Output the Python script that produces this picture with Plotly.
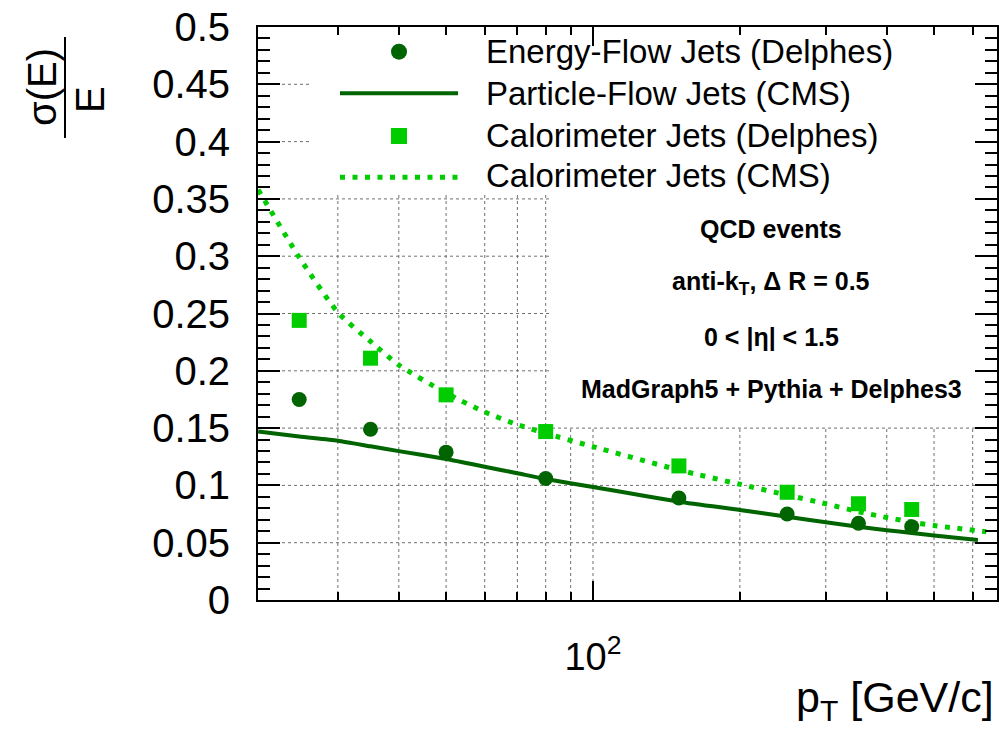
import math
import plotly.graph_objects as go

# ---------------- data ----------------
pt_points = [25, 35, 50, 80, 150, 250, 350, 450]
eflow_delphes = [0.175, 0.149, 0.129, 0.106, 0.089, 0.075, 0.067, 0.064]
calo_delphes = [0.244, 0.211, 0.179, 0.147, 0.117, 0.094, 0.084, 0.079]

pt_pf_cms = [20.6, 25, 30, 35, 40, 50, 60, 70, 80, 100, 150, 200, 250, 300, 350, 400, 450, 500, 615]
pflow_cms = [0.147, 0.1426, 0.139, 0.1341, 0.1299, 0.123, 0.1163, 0.1106, 0.1056, 0.0986,
             0.0858, 0.0786, 0.0727, 0.0679, 0.064, 0.0609, 0.0585, 0.0563, 0.0524]

pt_calo_cms = [20.6, 25, 30, 35, 40, 50, 60, 70, 80, 100, 150, 200, 250, 300, 350, 400, 450, 500, 640]
calo_cms = [0.358, 0.299, 0.251, 0.2256, 0.205, 0.1806, 0.164, 0.153, 0.1454, 0.1338,
            0.1134, 0.101, 0.0916, 0.084, 0.077, 0.072, 0.068, 0.065, 0.0596]

legend_labels = ["Energy-Flow Jets (Delphes)", "Particle-Flow Jets (CMS)",
                 "Calorimeter Jets (Delphes)", "Calorimeter Jets (CMS)"]
info_lines = ["QCD events", "anti-k<sub>T</sub>, Δ R = 0.5",
              "0 &lt; |η| &lt; 1.5", "MadGraph5 + Pythia + Delphes3"]

y_tickvals = [0, 0.05, 0.1, 0.15, 0.2, 0.25, 0.3, 0.35, 0.4, 0.45, 0.5]
y_ticktext = ["0", "0.05", "0.1", "0.15", "0.2", "0.25", "0.3", "0.35", "0.4", "0.45", "0.5"]
x_tickvals = [100]
x_ticktext = ["10<sup>2</sup>"]
x_minor_vals = [30, 40, 50, 60, 70, 80, 90, 200, 300, 400, 500, 600]

DARK = "#006400"
LIGHT = "#00cc00"
GRID = "#707070"
FONT = "Liberation Sans, Arial, Helvetica, sans-serif"

W, H = 1002, 750
L, R, T, B = 258, 5, 27, 150
PW, PH = W - L - R, H - T - B
XR = [1.3135, 2.828]
YR = [0, 0.5]


def px(xp):
    return (xp - L) / PW


def py(yp):
    return (H - B - yp) / PH


def xdom(v):
    return (math.log10(v) - XR[0]) / (XR[1] - XR[0])


fig = go.Figure()
fig.add_trace(go.Scatter(x=pt_pf_cms, y=pflow_cms, mode="lines",
                         line=dict(color=DARK, width=4, shape="spline", smoothing=0.6),
                         name=legend_labels[1], showlegend=False))
fig.add_trace(go.Scatter(x=pt_calo_cms, y=calo_cms, mode="lines",
                         line=dict(color=LIGHT, width=5, dash="5px,7.5px", shape="spline", smoothing=0.6),
                         name=legend_labels[3], showlegend=False))
fig.add_trace(go.Scatter(x=pt_points, y=eflow_delphes, mode="markers",
                         marker=dict(symbol="circle", size=15, color=DARK),
                         name=legend_labels[0], showlegend=False))
fig.add_trace(go.Scatter(x=pt_points, y=calo_delphes, mode="markers",
                         marker=dict(symbol="square", size=15, color=LIGHT),
                         name=legend_labels[2], showlegend=False))

fig.update_xaxes(type="log", range=XR, autorange=False,
                 tickmode="array", tickvals=x_tickvals, ticktext=x_ticktext,
                 ticks="inside", ticklen=19, tickwidth=1.5, tickcolor="black",
                 showline=True, linecolor="black", linewidth=2, mirror="ticks",
                 zeroline=False, showgrid=False, automargin=False,
                 ticklabelstandoff=22,
                 tickfont=dict(size=38, color="black", family=FONT),
                 minor=dict(tickmode="array", tickvals=x_minor_vals, ticks="inside",
                            ticklen=8, tickwidth=1.5, tickcolor="black", showgrid=False))
fig.update_yaxes(range=YR, autorange=False, tickmode="array", tickvals=y_tickvals, ticktext=y_ticktext,
                 ticks="inside", ticklen=22, tickwidth=1.5, tickcolor="black",
                 showline=True, linecolor="black", linewidth=2, mirror="ticks",
                 zeroline=False, showgrid=False, automargin=False,
                 ticklabelstandoff=18,
                 tickfont=dict(size=40, color="black", family=FONT),
                 minor=dict(tickmode="linear", tick0=0, dtick=0.01, ticks="inside",
                            ticklen=12, tickwidth=1.5, tickcolor="black", showgrid=False))

shapes = []
gline = dict(color=GRID, width=1, dash="dot")
# legend box reaches down to y=0.355, text pave covers x>=~85 GeV down to y=0.152
legend_bottom = (H - B - 193) / PH * (YR[1] - YR[0])
pave_bottom = (H - B - 426) / PH * (YR[1] - YR[0])
pave_left = px(552)
for v in x_minor_vals + x_tickvals:
    f = xdom(v)
    top = legend_bottom if f < pave_left else pave_bottom
    shapes.append(dict(type="line", xref="x domain", yref="y", layer="below",
                       x0=f, x1=f, y0=YR[0], y1=top, line=gline))
for v in y_tickvals[1:-1]:
    if v > legend_bottom:
        right = px(312)
    elif v > pave_bottom:
        right = pave_left
    else:
        right = 1
    shapes.append(dict(type="line", xref="x domain", yref="y", layer="below",
                       x0=0, x1=right, y0=v, y1=v, line=gline))

# legend glyphs
shapes.append(dict(type="circle", xref="paper", yref="paper",
                   x0=px(391), x1=px(407), y0=py(59.7), y1=py(43.7),
                   fillcolor=DARK, line=dict(width=0)))
shapes.append(dict(type="line", xref="paper", yref="paper",
                   x0=px(340), x1=px(458), y0=py(93.3), y1=py(93.3),
                   line=dict(color=DARK, width=4)))
shapes.append(dict(type="rect", xref="paper", yref="paper",
                   x0=px(391), x1=px(407), y0=py(144), y1=py(128),
                   fillcolor=LIGHT, line=dict(width=0)))
shapes.append(dict(type="line", xref="paper", yref="paper",
                   x0=px(340), x1=px(460), y0=py(177.3), y1=py(177.3),
                   line=dict(color=LIGHT, width=5, dash="5px,7.5px")))
# fraction bar of the y title
shapes.append(dict(type="line", xref="paper", yref="paper",
                   x0=px(65), x1=px(65), y0=py(37), y1=py(138),
                   line=dict(color="black", width=2)))

annotations = []
for lab, yc in zip(legend_labels, [51, 93, 135.5, 176]):
    annotations.append(dict(text=lab, xref="paper", yref="paper", x=px(484), y=py(yc),
                            xanchor="left", yanchor="middle", showarrow=False,
                            font=dict(size=33, color="black", family=FONT)))
for lab, yc in zip(info_lines, [229, 283, 337, 389]):
    annotations.append(dict(text="<b>" + lab + "</b>", xref="paper", yref="paper",
                            x=px(771), y=py(yc), xanchor="center", yanchor="middle",
                            showarrow=False, font=dict(size=25, color="black", family=FONT)))
# y title: sigma(E) / E as a rotated fraction
annotations.append(dict(text="σ(E)", xref="paper", yref="paper", x=px(42), y=py(87),
                        xanchor="center", yanchor="middle", textangle=-90, showarrow=False,
                        font=dict(size=40, color="black", family=FONT)))
annotations.append(dict(text="E", xref="paper", yref="paper", x=px(90), y=py(100),
                        xanchor="center", yanchor="middle", textangle=-90, showarrow=False,
                        font=dict(size=40, color="black", family=FONT)))
# x title
annotations.append(dict(text="p<sub>T</sub> [GeV/c]", xref="paper", yref="paper",
                        x=px(996), y=py(700), xanchor="right", yanchor="middle",
                        showarrow=False, font=dict(size=43, color="black", family=FONT)))

fig.update_layout(width=W, height=H, margin=dict(l=L, r=R, t=T, b=B, autoexpand=False),
                  paper_bgcolor="white", plot_bgcolor="white",
                  showlegend=False, shapes=shapes, annotations=annotations,
                  font=dict(family=FONT, color="black"))

fig.write_html("out.html", config={"displayModeBar": False},
               post_script="document.body.style.margin='0px';document.body.style.overflow='hidden';")
